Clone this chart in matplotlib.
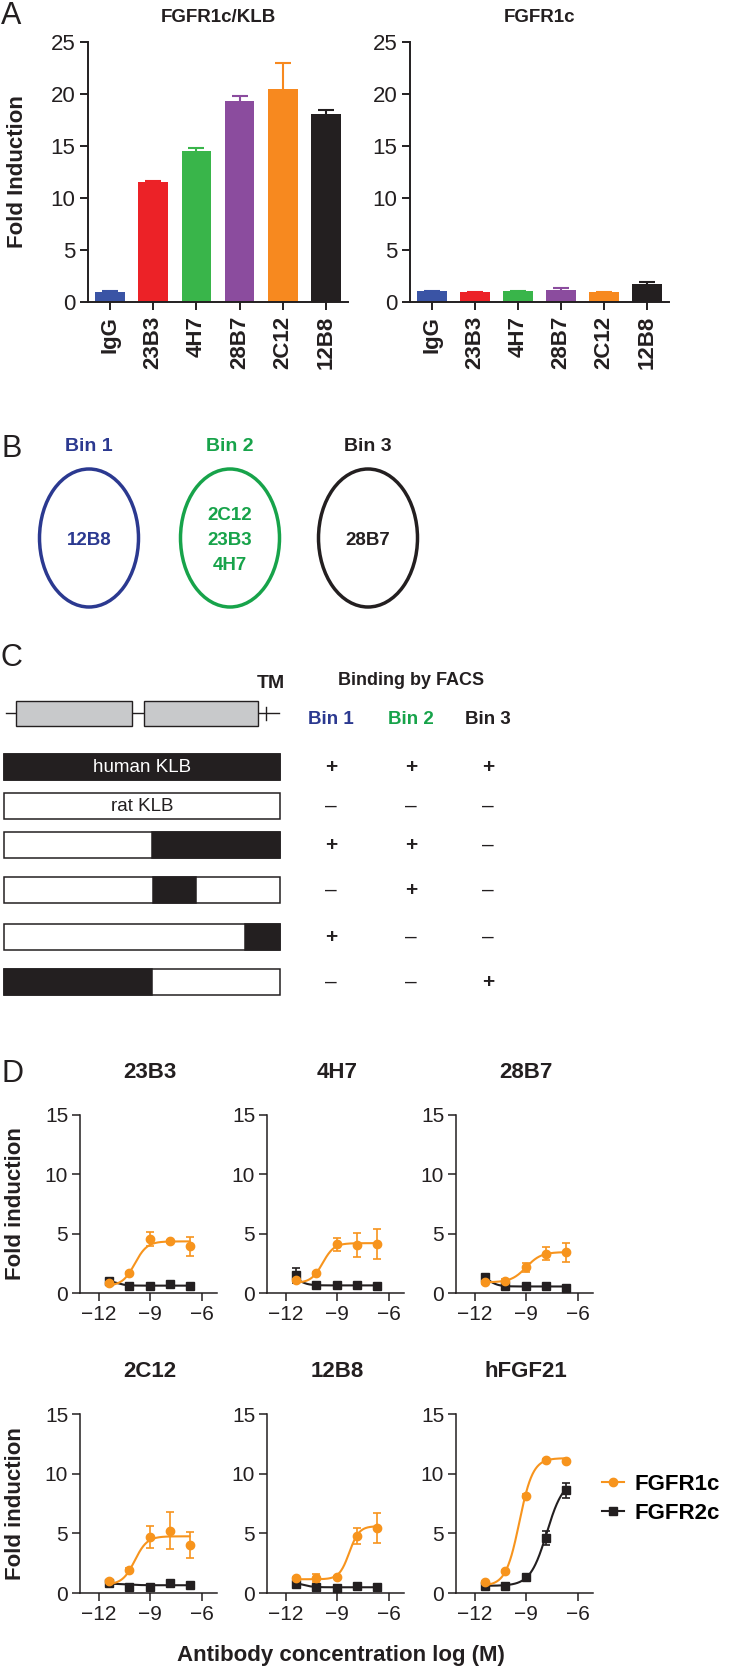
import numpy as np
import matplotlib
matplotlib.use("Agg")
import matplotlib.pyplot as plt
from matplotlib.patches import Ellipse, Rectangle
from matplotlib.lines import Line2D

W, H, DPI = 729, 1667, 100

# ---------------- data ----------------
# panel A
antibodies = ["IgG", "23B3", "4H7", "28B7", "2C12", "12B8"]
bar_colors = ["#3a54a5", "#ec2227", "#39b54a", "#8b4c9e", "#f7891f", "#231f20"]
klb_fold = [1.0, 11.5, 14.5, 19.3, 20.5, 18.05]
klb_err = [0.05, 0.1, 0.35, 0.5, 2.5, 0.4]
r1c_fold = [1.05, 0.95, 1.05, 1.2, 0.95, 1.75]
r1c_err = [0.05, 0.05, 0.05, 0.1, 0.05, 0.2]

# panel B
bins = ["Bin 1", "Bin 2", "Bin 3"]
bin_colors = ["#2b3990", "#17a34a", "#231f20"]
bin_members = [["12B8"], ["2C12", "23B3", "4H7"], ["28B7"]]

# panel C: human KLB parts of each construct, as fraction of length
construct_labels = ["human KLB", "rat KLB", "", "", "", ""]
human_parts = [[(0.0, 1.0)], [], [(0.536, 1.0)], [(0.54, 0.694)],
               [(0.873, 1.0)], [(0.0, 0.536)]]
binding = [["+", "+", "+"], ["-", "-", "-"], ["+", "+", "-"],
           ["-", "+", "-"], ["+", "-", "-"], ["-", "-", "+"]]
domains = [(0.044, 0.464), (0.506, 0.921)]

# panel D
log_conc = [-11.38, -10.21, -9.04, -7.87, -6.70]
d_titles = ["23B3", "4H7", "28B7", "2C12", "12B8", "hFGF21"]
fgfr1c_mean = [[0.84, 1.70, 4.55, 4.35, 3.93],
               [1.09, 1.65, 4.09, 4.03, 4.14],
               [0.90, 1.04, 2.16, 3.31, 3.45],
               [1.00, 1.96, 4.70, 5.20, 4.00],
               [1.26, 1.26, 1.35, 4.77, 5.44],
               [0.92, 1.82, 8.16, 11.17, 11.09]]
fgfr1c_err = [[0.10, 0.10, 0.60, 0.10, 0.80],
              [0.10, 0.10, 0.55, 1.00, 1.25],
              [0.10, 0.10, 0.35, 0.55, 0.80],
              [0.10, 0.10, 0.95, 1.55, 1.10],
              [0.10, 0.35, 0.10, 0.65, 1.26],
              [0.10, 0.10, 0.15, 0.10, 0.10]]
fgfr2c_mean = [[0.98, 0.62, 0.62, 0.79, 0.56],
               [1.48, 0.64, 0.64, 0.64, 0.59],
               [1.32, 0.56, 0.62, 0.62, 0.39],
               [0.84, 0.50, 0.50, 0.84, 0.70],
               [0.76, 0.50, 0.39, 0.60, 0.48],
               [0.61, 0.61, 1.37, 4.61, 8.60]]
fgfr2c_err = [[0.10, 0.05, 0.05, 0.05, 0.05],
              [0.65, 0.05, 0.05, 0.05, 0.05],
              [0.15, 0.05, 0.05, 0.05, 0.05],
              [0.05, 0.05, 0.05, 0.05, 0.05],
              [0.20, 0.05, 0.05, 0.05, 0.05],
              [0.05, 0.05, 0.20, 0.60, 0.65]]
# 4PL fit: (low, high, logEC50, hill)
fgfr1c_fit = [(0.6, 4.35, -9.9, 1.2), (0.85, 4.2, -9.85, 1.3), (0.9, 3.45, -9.0, 1.0),
              (0.7, 4.75, -9.9, 1.2), (1.15, 5.6, -8.3, 1.5), (0.6, 11.3, -9.4, 1.1)]
fgfr2c_fit = [(1.1, 0.62, -11.0, 1.5), (1.6, 0.64, -11.3, 1.5), (1.6, 0.55, -11.2, 1.5),
              (0.8, 0.65, -10.5, 1.0), (0.9, 0.48, -11.0, 1.5), (0.6, 9.5, -7.8, 0.9)]

ORANGE = "#f7941d"
BLACK = "#231f20"

plt.rcParams['font.family'] = ['Liberation Sans', 'DejaVu Sans']
plt.rcParams['axes.unicode_minus'] = True

fig = plt.figure(figsize=(W / DPI, H / DPI), dpi=DPI)


def frac(x0, y0, x1, y1):
    return [x0 / W, 1 - y1 / H, (x1 - x0) / W, (y1 - y0) / H]


def ftext(x, y, s, **kw):
    kw.setdefault('ha', 'center')
    kw.setdefault('va', 'center')
    return fig.text(x / W, 1 - y / H, s, **kw)


def four_pl(x, p):
    lo, hi, c, h = p
    return lo + (hi - lo) / (1 + 10 ** ((c - x) * h))


# overlay in pixel coordinates for the diagram panels
ov = fig.add_axes([0, 0, 1, 1])
ov.set_xlim(0, W)
ov.set_ylim(H, 0)
ov.axis('off')

# panel letters
for letter, y in zip("ABCD", [16, 449, 658, 1074]):
    ftext(1, y, letter, ha='left', fontsize=22, color=BLACK)

# ---------------- panel A ----------------
def bar_panel(rect, title, vals, errs):
    ax = fig.add_axes(frac(*rect))
    x = np.arange(len(antibodies))
    ax.bar(x, vals, width=0.69, color=bar_colors, zorder=2)
    for xi, v, e, c in zip(x, vals, errs, bar_colors):
        _, caps, _ = ax.errorbar(xi, v, yerr=[[0], [e]], fmt='none', ecolor=c,
                                 elinewidth=1.5, capsize=5.5, capthick=1.5, zorder=1)
        caps[0].set_visible(False)
    ax.set_xlim(-0.51, 5.51)
    ax.set_ylim(0, 25)
    ax.set_yticks([0, 5, 10, 15, 20, 25])
    ax.set_xticks(x)
    ax.set_xticklabels(antibodies, rotation=90, fontweight='bold', fontsize=16)
    ax.tick_params(axis='y', labelsize=16, length=6, width=1.4, pad=3, colors=BLACK)
    ax.tick_params(axis='x', length=6, width=1.4, pad=4, colors=BLACK)
    for s in ['top', 'right']:
        ax.spines[s].set_visible(False)
    for s in ['left', 'bottom']:
        ax.spines[s].set_linewidth(1.4)
        ax.spines[s].set_color(BLACK)
    cx = (rect[0] + rect[2]) / 2
    ftext(cx, 18, title, fontweight='bold', fontsize=13.5, color=BLACK)
    return ax

bar_panel((88, 42, 348, 302), "FGFR1c/KLB", klb_fold, klb_err)
bar_panel((410, 42, 669, 302), "FGFR1c", r1c_fold, r1c_err)
ftext(18, 172, "Fold Induction", rotation=90, fontweight='bold', fontsize=16, color=BLACK)

# ---------------- panel B ----------------
bin_x = [89, 230, 368]
for bx, name, col, members in zip(bin_x, bins, bin_colors, bin_members):
    ov.add_patch(Ellipse((bx, 538), 99, 138, fill=False, edgecolor=col, linewidth=2.5))
    ov.text(bx, 446, name, ha='center', va='center', color=col, fontsize=14,
            fontweight='bold')
    n = len(members)
    for i, m in enumerate(members):
        ov.text(bx, 540 + (i - (n - 1) / 2) * 25, m, ha='center', va='center', color=col,
                fontsize=13.5, fontweight='bold')

# ---------------- panel C ----------------
cx0, cx1 = 4, 280
clen = cx1 - cx0
ov.plot([cx0 + 0.007 * clen, cx0 + 0.996 * clen], [713, 713], color=BLACK, lw=1.0)
for d0, d1 in domains:
    ov.add_patch(Rectangle((cx0 + d0 * clen, 701), (d1 - d0) * clen, 25,
                           facecolor="#c8c9cb", edgecolor=BLACK, lw=1.0, zorder=3))
ov.plot([cx0 + 0.95 * clen] * 2, [707, 720], color=BLACK, lw=1.0)
ov.text(cx0 + 0.968 * clen, 683, "TM", ha='center', va='center', fontsize=14,
        fontweight='bold', color=BLACK)

row_top = [754, 793, 832, 877, 924, 969]
row_h = 26
for top, label, parts in zip(row_top, construct_labels, human_parts):
    ov.add_patch(Rectangle((cx0, top), clen, row_h, facecolor='white',
                           edgecolor=BLACK, lw=1.1, zorder=2))
    for p0, p1 in parts:
        ov.add_patch(Rectangle((cx0 + p0 * clen, top), (p1 - p0) * clen, row_h,
                               facecolor=BLACK, edgecolor=BLACK, lw=1.1, zorder=3))
    if label:
        tc = 'white' if parts else BLACK
        ov.text(cx0 + clen / 2, top + row_h / 2, label, ha='center', va='center',
                fontsize=13.5, color=tc, zorder=4)

col_x = [331, 411, 488]
ov.text(col_x[1], 680, "Binding by FACS", ha='center', va='center', fontsize=13,
        fontweight='bold', color=BLACK)
for x, name, col in zip(col_x, bins, bin_colors):
    ov.text(x, 719, name, ha='center', va='center', fontsize=13.5, fontweight='bold',
            color=col)
for top, row in zip(row_top, binding):
    for x, sign in zip(col_x, row):
        if sign == "+":
            ov.text(x, top + row_h / 2, "+", ha='center', va='center', fontsize=15,
                    fontweight='bold', color=BLACK)
        else:
            ov.text(x, top + row_h / 2, "\u2013", ha='center', va='center', fontsize=15,
                    color=BLACK)

# ---------------- panel D ----------------
row_y = [(1115, 1293), (1414, 1593)]
col_left = [80, 267, 456]
xs = np.linspace(log_conc[0], log_conc[-1], 200)
for k in range(6):
    r, c = divmod(k, 3)
    x0 = col_left[c]
    y0, y1 = row_y[r]
    ax = fig.add_axes(frac(x0, y0, x0 + 137, y1))
    ax.plot(xs, four_pl(xs, fgfr2c_fit[k]), color=BLACK, lw=1.5, zorder=2)
    ax.errorbar(log_conc, fgfr2c_mean[k], yerr=fgfr2c_err[k], fmt='s', ms=5.5,
                color=BLACK, ecolor=BLACK, elinewidth=1.2, capsize=3.2, capthick=1.2,
                zorder=3, label="FGFR2c")
    ax.plot(xs, four_pl(xs, fgfr1c_fit[k]), color=ORANGE, lw=1.5, zorder=4)
    ax.errorbar(log_conc, fgfr1c_mean[k], yerr=fgfr1c_err[k], fmt='o', ms=6,
                color=ORANGE, ecolor=ORANGE, elinewidth=1.2, capsize=3.2, capthick=1.2,
                zorder=5, label="FGFR1c")
    ax.set_xlim(-13.1, -5.1)
    ax.set_ylim(0, 15)
    ax.set_xticks([-12, -9, -6])
    ax.set_yticks([0, 5, 10, 15])
    ax.tick_params(labelsize=15, length=5.5, width=1.1, pad=3, colors=BLACK)
    for s in ['top', 'right']:
        ax.spines[s].set_visible(False)
    for s in ['left', 'bottom']:
        ax.spines[s].set_linewidth(1.1)
        ax.spines[s].set_color(BLACK)
    ftext(x0 + 70, y0 - 43, d_titles[k], fontweight='bold', fontsize=16, color=BLACK)

for y0, y1 in row_y:
    ftext(16, (y0 + y1) / 2, "Fold induction", rotation=90, fontweight='bold',
          fontsize=16, color=BLACK)
ftext(341, 1655, "Antibody concentration log (M)", fontweight='bold', fontsize=16,
      color=BLACK)

handles = [Line2D([], [], color=ORANGE, marker='o', ms=6, lw=1.5),
           Line2D([], [], color=BLACK, marker='s', ms=5.5, lw=1.5)]
fig.legend(handles, ["FGFR1c", "FGFR2c"], loc='center left',
           bbox_to_anchor=(602 / W, 1 - 1499 / H), frameon=False,
           prop={'weight': 'bold', 'size': 16}, handlelength=1.0,
           handletextpad=0.45, labelspacing=0.35, borderaxespad=0, borderpad=0)

fig.savefig("out.png", dpi=DPI)
